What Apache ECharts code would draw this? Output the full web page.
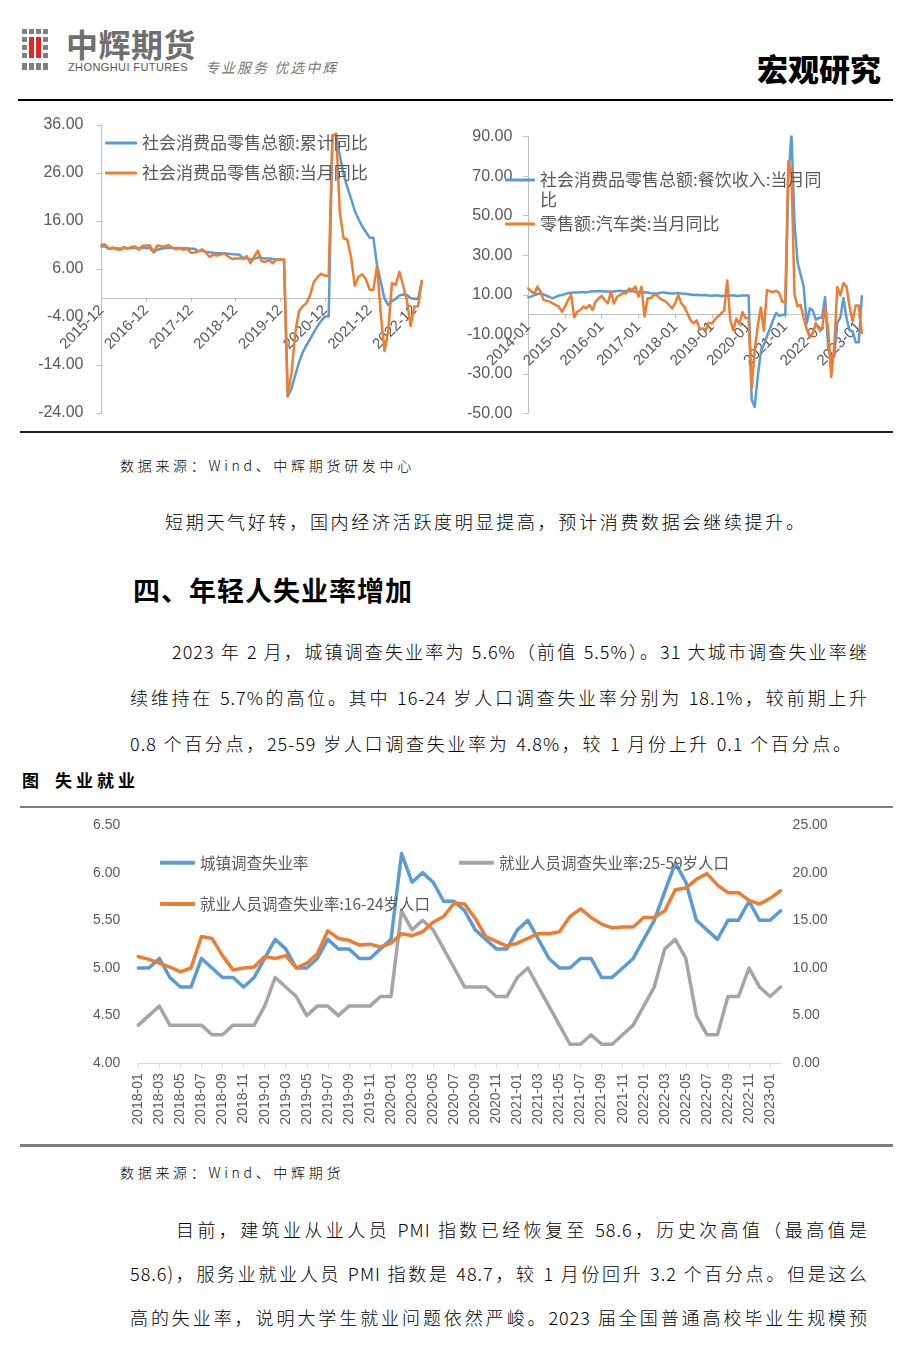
<!DOCTYPE html>
<html><head><meta charset="utf-8">
<script src="https://cdn.jsdelivr.net/npm/echarts@6/dist/echarts.min.js"></script>
<style>
html,body{margin:0;padding:0;background:#fff;}
#page{position:relative;width:909px;height:1356px;overflow:hidden;font-family:"Noto Sans CJK SC",sans-serif;color:#000;background:#fff;}
.abs{position:absolute;white-space:nowrap;}
.sq{position:absolute;background:#808080;}
.red{position:absolute;background:#e0262b;}
.body{font-size:18px;font-weight:300;line-height:24px;height:24px;letter-spacing:1px;}
.just{text-align:justify;text-align-last:justify;}
.src{font-size:14px;line-height:20px;letter-spacing:3.7px;font-weight:300;}
.hr{position:absolute;}
</style></head>
<body>
<div id="page">
  <!-- logo icon -->
  <div class="sq" style="left:22px;top:29px;width:5px;height:5px"></div>
  <div class="sq" style="left:29px;top:29px;width:5px;height:5px"></div>
  <div class="sq" style="left:36px;top:29px;width:5px;height:5px"></div>
  <div class="sq" style="left:43px;top:29px;width:5px;height:5px"></div>
  <div class="sq" style="left:22px;top:37px;width:5px;height:5px"></div>
  <div class="sq" style="left:43px;top:37px;width:5px;height:5px"></div>
  <div class="sq" style="left:22px;top:45px;width:5px;height:5px"></div>
  <div class="sq" style="left:43px;top:45px;width:5px;height:5px"></div>
  <div class="sq" style="left:22px;top:53px;width:5px;height:5px"></div>
  <div class="sq" style="left:43px;top:53px;width:5px;height:5px"></div>
  <div class="red" style="left:29px;top:37px;width:5px;height:21px"></div>
  <div class="red" style="left:36px;top:37px;width:5px;height:21px"></div>
  <div class="sq" style="left:22px;top:63px;width:5px;height:7px"></div>
  <div class="sq" style="left:29px;top:63px;width:5px;height:7px"></div>
  <div class="sq" style="left:36px;top:63px;width:5px;height:7px"></div>
  <div class="sq" style="left:43px;top:63px;width:5px;height:7px"></div>
  <div class="abs" style="left:66px;top:23px;font-size:32px;line-height:40px;font-weight:700;color:#6f6f6f;letter-spacing:0.5px">中辉期货</div>
  <div class="abs" style="left:68px;top:61px;font-size:11px;line-height:13px;color:#555;font-family:'Liberation Sans',Arial,sans-serif;letter-spacing:0.4px">ZHONGHUI FUTURES</div>
  <div class="abs" style="left:205px;top:58px;font-size:14px;line-height:18px;color:#777;font-style:italic;letter-spacing:2px">专业服务 优选中辉</div>
  <div class="abs" style="left:757px;top:48px;font-size:31px;line-height:40px;font-weight:900;color:#000">宏观研究</div>
  <div class="hr" style="left:18px;top:99px;width:875px;height:2px;background:#000"></div>

  <div id="chartTop" class="abs" style="left:0;top:105px;width:909px;height:325px"></div>
  <div class="hr" style="left:20px;top:431px;width:873px;height:1.5px;background:#222"></div>

  <div class="abs src" style="left:120px;top:455px">数据来源：Wind、中辉期货研发中心</div>
  <div class="abs body just" style="left:165px;top:509px;width:640px">短期天气好转，国内经济活跃度明显提高，预计消费数据会继续提升。</div>
  <div class="abs just" style="left:133px;top:571px;width:279px;font-size:27px;line-height:38px;font-weight:700">四、年轻人失业率增加</div>
  <div class="abs body just" style="left:172px;top:639px;width:696px">2023 年 2 月，城镇调查失业率为 5.6%（前值 5.5%）。31 大城市调查失业率继</div>
  <div class="abs body just" style="left:130px;top:685px;width:738px">续维持在 5.7%的高位。其中 16-24 岁人口调查失业率分别为 18.1%，较前期上升</div>
  <div class="abs body just" style="left:130px;top:731px;width:722px">0.8 个百分点，25-59 岁人口调查失业率为 4.8%，较 1 月份上升 0.1 个百分点。</div>
  <div class="abs" style="left:22px;top:768px;font-size:17px;line-height:24px;font-weight:700">图</div>
  <div class="abs just" style="left:55px;top:768px;width:80px;font-size:17px;line-height:24px;font-weight:700">失业就业</div>
  <div class="hr" style="left:20px;top:806px;width:873px;height:3px;background:#7f7f7f"></div>

  <div id="chartBottom" class="abs" style="left:0;top:808px;width:909px;height:335px"></div>
  <div class="hr" style="left:20px;top:1144px;width:873px;height:3px;background:#7f7f7f"></div>

  <div class="abs src" style="left:120px;top:1162px">数据来源：Wind、中辉期货</div>
  <div class="abs body just" style="left:176px;top:1217px;width:692px">目前，建筑业从业人员 PMI 指数已经恢复至 58.6，历史次高值（最高值是</div>
  <div class="abs body just" style="left:130px;top:1261px;width:738px">58.6)，服务业就业人员 PMI 指数是 48.7，较 1 月份回升 3.2 个百分点。但是这么</div>
  <div class="abs body just" style="left:130px;top:1305px;width:738px">高的失业率，说明大学生就业问题依然严峻。2023 届全国普通高校毕业生规模预</div>
</div>
<script>
// ---------- data ----------
function monthLabels(y, m, n) {
  const out = [];
  for (let i = 0; i < n; i++) {
    out.push(y + '-' + String(m).padStart(2, '0'));
    m++; if (m > 12) { m = 1; y++; }
  }
  return out;
}
const catTL = monthLabels(2015, 12, 87);   // 2015-12 .. 2023-02
const catTR = monthLabels(2014, 1, 110);   // 2014-01 .. 2023-02
const catB  = monthLabels(2018, 1, 62);    // 2018-01 .. 2023-02

const nameCum = '社会消费品零售总额:累计同比';
const nameMon = '社会消费品零售总额:当月同比';
const retailCum = [10.7,
 10.7,10.2,10.3,10.3,10.2,10.3,10.3,10.3,10.4,10.3,10.4,10.4,
 10.4,9.5,10.0,10.2,10.3,10.4,10.4,10.4,10.4,10.3,10.3,10.2,
 10.2,9.7,9.8,9.6,9.5,9.4,9.3,9.3,9.3,9.2,9.1,9.0,
 9.0,8.2,8.3,8.0,8.1,8.4,8.3,8.2,8.2,8.1,8.0,8.0,
 8.0,-20.5,-19.0,-16.2,-13.5,-11.4,-9.9,-8.6,-7.2,-5.9,-4.8,-3.9,
 -3.9,33.8,33.9,29.6,25.7,23.0,20.7,18.1,16.4,14.9,13.7,12.5,
 12.5,6.7,3.3,-0.2,-1.5,-0.7,-0.2,0.5,0.7,0.6,-0.1,-0.2,
 -0.2,3.5];
const retailMon = [11.1,
 11.1,10.2,10.5,10.1,10.0,10.6,10.2,10.6,10.7,10.0,10.8,10.9,
 10.9,9.5,10.9,10.7,10.7,11.0,10.4,10.1,10.3,10.0,10.2,9.4,
 9.4,9.7,10.1,9.4,8.5,9.0,8.8,9.0,9.2,8.6,8.1,8.2,
 8.2,8.2,8.7,7.2,8.6,9.8,7.6,7.5,7.8,7.2,8.0,8.0,
 8.0,-20.5,-15.8,-7.5,-2.8,-1.8,-1.1,0.5,3.3,4.3,5.0,4.6,
 4.6,33.8,34.2,17.7,12.4,12.1,8.5,2.5,4.4,4.9,3.9,1.7,
 1.7,6.7,-3.5,-11.1,-6.7,3.1,2.7,5.4,2.5,-0.5,-5.9,-1.8,
 -1.8,3.5];

const nameFood = '社会消费品零售总额:餐饮收入:当月同比';
const nameAuto = '零售额:汽车类:当月同比';
const foodYoy = [
 8.7,9.2,9.8,10.4,10.7,10.2,9.5,8.8,8.2,8.9,9.6,9.9,
 10.3,10.8,11.0,11.2,11.1,11.3,11.4,11.2,11.6,11.7,11.8,11.9,
 11.8,11.6,11.6,11.5,11.7,11.9,12.0,11.8,11.9,11.7,12.0,11.4,
 11.2,11.0,11.3,11.1,10.8,10.7,10.6,10.9,11.2,11.0,10.8,10.6,
 10.7,10.9,10.6,10.5,10.4,10.1,9.9,10.0,9.8,9.7,9.9,9.6,
 9.5,9.7,9.6,9.4,9.5,9.3,9.6,9.7,9.4,9.5,9.6,9.6,
 9.6,-43.1,-46.8,-31.1,-18.9,-15.2,-11.0,-7.0,-2.9,0.8,-0.6,-0.1,
 -0.1,68.9,91.6,46.4,26.6,20.2,14.3,-4.5,3.1,2.0,-2.7,-1.6,
 -1.6,8.9,-16.4,-22.7,-21.1,-4.0,-1.5,8.4,-1.7,-8.1,-8.4,-14.1,
 -14.1,9.2];
const autoYoy = [
 13.2,11.6,10.7,14.1,11.6,7.3,7.0,6.5,5.6,4.8,4.0,1.4,
 4.0,7.3,9.9,-1.4,1.4,2.3,4.0,3.1,4.8,2.3,6.5,8.2,
 9.4,7.3,5.6,11.6,5.6,9.0,9.9,10.7,10.7,13.2,12.4,14.1,
 9.0,14.1,-1.1,8.2,8.2,9.9,9.9,8.2,7.3,6.5,4.8,3.1,
 5.6,9.9,5.6,4.0,0.6,-2.8,-4.5,-3.0,-7.5,-7.0,-8.0,-4.2,
 -4.5,-2.5,-1.0,0.5,2.0,17.2,-2.6,-8.1,-2.0,-4.8,1.2,-1.8,
 -1.8,-37.0,-18.1,-5.6,3.5,-8.2,12.3,11.8,11.3,12.0,11.0,6.4,
 6.4,77.6,72.2,10.1,4.1,4.9,-1.8,-7.4,-11.6,-9.4,-4.5,-7.4,
 -7.4,3.7,-7.5,-31.6,-16.0,13.9,9.7,15.9,14.2,3.9,-3.4,4.6,
 4.6,-9.4];

const nameUrban = '城镇调查失业率';
const name2559 = '就业人员调查失业率:25-59岁人口';
const name1624 = '就业人员调查失业率:16-24岁人口';
const urbanRate = [
 5.0,5.0,5.1,4.9,4.8,4.8,5.1,5.0,4.9,4.9,4.8,4.9,
 5.1,5.3,5.2,5.0,5.0,5.1,5.3,5.2,5.2,5.1,5.1,5.2,
 5.3,6.2,5.9,6.0,5.9,5.7,5.7,5.6,5.4,5.3,5.2,5.2,
 5.4,5.5,5.3,5.1,5.0,5.0,5.1,5.1,4.9,4.9,5.0,5.1,
 5.3,5.5,5.8,6.1,5.9,5.5,5.4,5.3,5.5,5.5,5.7,5.5,
 5.5,5.6];
const rate2559 = [
 4.4,4.5,4.6,4.4,4.4,4.4,4.4,4.3,4.3,4.4,4.4,4.4,
 4.6,4.9,4.8,4.7,4.5,4.6,4.6,4.5,4.6,4.6,4.6,4.7,
 4.7,5.6,5.4,5.5,5.4,5.2,5.0,4.8,4.8,4.8,4.7,4.7,
 4.9,5.0,4.8,4.6,4.4,4.2,4.2,4.3,4.2,4.2,4.3,4.4,
 4.6,4.8,5.2,5.3,5.1,4.5,4.3,4.3,4.7,4.7,5.0,4.8,
 4.7,4.8];
const rate1624 = [
 11.2,10.9,10.5,10.1,9.6,10.0,13.3,13.1,11.3,9.8,10.0,10.1,
 11.2,11.0,11.3,10.0,10.5,11.5,13.9,13.1,12.9,12.4,12.5,12.2,
 12.6,13.6,13.4,13.8,14.8,15.4,16.8,16.7,15.2,13.3,12.8,12.3,
 12.6,13.1,13.6,13.6,13.8,15.4,16.2,15.3,14.6,14.2,14.3,14.3,
 15.3,15.3,16.0,18.2,18.4,19.3,19.9,18.7,17.9,17.9,17.1,16.7,
 17.3,18.1];

// ---------- styles ----------
const BLUE = '#5b9bd5', ORANGE = '#ed7d31', GRAY = '#a5a5a5';
const numFont = "'Liberation Sans', Arial, sans-serif";
const cjkFont = "'Noto Sans CJK SC', sans-serif";
const axisGray = '#bfbfbf';
const labelGray = '#595959';
const fmt2 = v => Number(v).toFixed(2);

function catAxis(grid, data, interval, rotate, fontSize, margin, offset) {
  return {
    type: 'category', gridIndex: grid, data: data, boundaryGap: false,
    position: 'bottom', offset: offset || 0,
    axisLine: { show: true, onZero: false, lineStyle: { color: axisGray, width: 1 } },
    axisTick: { show: true, interval: interval, length: 4, lineStyle: { color: axisGray } },
    axisLabel: { interval: interval, rotate: rotate, margin: margin, fontSize: fontSize, color: labelGray, fontFamily: numFont },
    splitLine: { show: false }
  };
}
function valAxis(grid, min, max, interval, margin, showLine, fontSize, pos) {
  return {
    type: 'value', gridIndex: grid, min: min, max: max, interval: interval, position: pos || 'left',
    axisLine: { show: showLine, lineStyle: { color: axisGray } },
    axisTick: { show: showLine, length: 5, lineStyle: { color: axisGray } },
    axisLabel: { formatter: fmt2, margin: margin, fontSize: fontSize, color: labelGray, fontFamily: numFont },
    splitLine: { show: false }
  };
}
function lineSeries(name, data, color, width, xi, yi) {
  return {
    type: 'line', name: name, data: data, xAxisIndex: xi, yAxisIndex: yi,
    symbol: 'none', showSymbol: false, smooth: false,
    lineStyle: { color: color, width: width, cap: 'round', join: 'round' },
    itemStyle: { color: color }
  };
}
function legendOne(name, left, top, w, h, fontSize, icon) {
  return {
    data: [name], left: left, top: top, orient: 'vertical', padding: 0,
    icon: icon || 'roundRect', itemWidth: w, itemHeight: h, selectedMode: false,
    textStyle: { fontSize: fontSize, color: labelGray, fontFamily: cjkFont, lineHeight: 20 }
  };
}

// ---------- top charts ----------
const g1 = { left: 101.5, top: 20, width: 320.3, height: 288 };
const g2 = { left: 528.3, top: 31.7, width: 333.5, height: 276.6 };
const yr1 = [-24, 36], yr2 = [-50, 90];
// move the category axis up onto the zero line of its value axis
const off1 = -(g1.height * (0 - yr1[0]) / (yr1[1] - yr1[0]));
const off2 = -(g2.height * (0 - yr2[0]) / (yr2[1] - yr2[0]));

const chartTop = echarts.init(document.getElementById('chartTop'), null, { renderer: 'canvas' });
// two-line legend item: icon bar aligned with the first text line
const twoLineIcon = 'path://M0,0h0.01v0.01h-0.01z M0,8.5h30v3h-30z M0,39.99h0.01v0.01h-0.01z';
const legFood = legendOne(nameFood, 505, 65, 30, 40, 17, twoLineIcon);
legFood.formatter = n => n.slice(0, -1) + '\n' + n.slice(-1);
chartTop.setOption({
  animation: false,
  backgroundColor: '#fff',
  grid: [
    Object.assign({ outerBoundsMode: 'none' }, g1),
    Object.assign({ outerBoundsMode: 'none' }, g2)
  ],
  xAxis: [
    catAxis(0, catTL, 11, 45, 15, 10, off1),
    catAxis(1, catTR, 11, 45, 15, 10, off2)
  ],
  yAxis: [
    valAxis(0, yr1[0], yr1[1], 10, 18, true, 16),
    valAxis(1, yr2[0], yr2[1], 20, 16, true, 16)
  ],
  legend: [
    legendOne(nameCum, 105, 28, 32, 3, 17),
    legendOne(nameMon, 105, 58, 32, 3, 17),
    legFood,
    legendOne(nameAuto, 505, 109, 30, 3, 17)
  ],
  series: [
    lineSeries(nameCum, retailCum, BLUE, 2.5, 0, 0),
    lineSeries(nameMon, retailMon, ORANGE, 2.5, 0, 0),
    lineSeries(nameFood, foodYoy, BLUE, 2.5, 1, 1),
    lineSeries(nameAuto, autoYoy, ORANGE, 2.5, 1, 1)
  ]
});

// ---------- bottom chart ----------
const chartBottom = echarts.init(document.getElementById('chartBottom'), null, { renderer: 'canvas' });
const bx = catAxis(0, catB, 1, 90, 14, 10, 0);
bx.axisLine.lineStyle.color = '#d9d9d9';
bx.axisTick.lineStyle.color = '#d9d9d9';
chartBottom.setOption({
  animation: false,
  backgroundColor: '#fff',
  grid: [{ left: 138.3, top: 17, width: 642.3, height: 238.3, outerBoundsMode: 'none' }],
  xAxis: [bx],
  yAxis: [
    valAxis(0, 4, 6.5, 0.5, 18, false, 14, 'left'),
    valAxis(0, 0, 25, 5, 12, false, 14, 'right')
  ],
  legend: [
    legendOne(nameUrban, 160, 44.7, 35, 4, 15.5),
    legendOne(name2559, 459, 44.7, 35, 4, 15.5),
    legendOne(name1624, 160, 86, 35, 4, 15.5)
  ],
  series: [
    lineSeries(name2559, rate2559, GRAY, 3.5, 0, 0),
    lineSeries(nameUrban, urbanRate, BLUE, 3.5, 0, 0),
    lineSeries(name1624, rate1624, ORANGE, 3.5, 0, 1)
  ]
});
</script>
</body></html>
